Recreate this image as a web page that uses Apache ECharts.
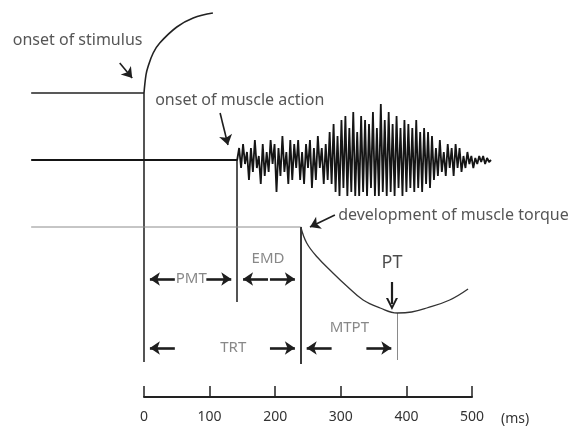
<!DOCTYPE html>
<html>
<head>
<meta charset="utf-8">
<script src="https://cdn.jsdelivr.net/npm/echarts/dist/echarts.min.js"></script>
<style>
  html, body { margin: 0; padding: 0; background: #fff; }
  #chart { width: 579px; height: 426px; }
</style>
</head>
<body>
<div id="chart"></div>
<script>
// Time runs along x in ms; each trace sits on its own level (display units) along y.
const timeTicks = [0, 100, 200, 300, 400, 500];
const traceStartMs = -172;

// Trace baselines
const traceNames = ['stimulus', 'emg', 'torque'];
const traceLevels = [83.25, 66.5, 49.75];

// Stimulus rise after onset
const stimulusRiseMs = [0, 3, 6, 14, 24, 50, 75, 105];
const stimulusRiseLevel = [83.25, 87.75, 89.75, 93.25, 95.75, 99.75, 102, 103.25];

// Surface EMG burst, sampled every emgSampleMs from the onset of muscle action
const emgOnsetMs = 142;
const emgSampleMs = 3;
const emgOffsets = [
  0, 3, -2, 4, -1, 2, -5, 3, -3, 5,
  -2, 1, -6, 4, -4, 2, -3, 5, -1, 4,
  -8, 3, -4, 6, -3, 2, -6, 5, -5, 4,
  -2, 5, -5, 2, -6, 4, -2, 5, -7, 3,
  -5, 6, -2, 3, -6, 4, -5,
  7, -6, 9, -8, 6, -9, 10, -7, 11, -9,
  8, -8, 12, -9, 7, -9, 11, -8, 10, -9,
  9, -7, 12, -9, 8, -9, 14, -8, 10, -9,
  12, -8, 9, -9, 11, -7, 8, -9, 10, -8,
  9, -7, 8, -8, 10, -7, 7, -8, 8, -6,
  7,
  -7, 6, -5, 3, -4, 5, -3, 2, -4, 4,
  -2, 3, -4, 4, -2, 3, -3, 1, -2, 2,
  -1, 1, -2,
  0.5, -1, 1, -0.5, 1, -1, 0.5, -0.5, 0
];

// Torque development
const torqueMs = [239, 248, 264, 288, 309, 334, 360, 386, 408, 431, 466, 494];
const torqueLevel = [49.75, 45.75, 42.25, 38.25, 35, 31.5, 29.5, 28.25, 28.5, 29.5, 31.5, 34.25];

// Event markers: stimulus, EMG onset, torque onset, peak torque
const eventMs = [0, 142, 239, 386];
const eventTop = [83.25, 66.5, 49.75, 28.25];
const eventBottom = [16, 31, 15.5, 16.5];

// Time intervals between events
const spanNames = ['PMT', 'EMD', 'TRT', 'MTPT'];
const spanStart = [0, 142, 0, 239];
const spanEnd = [142, 239, 239, 386];
const spanRow = [36.75, 36.75, 19.5, 19.5];
const spanLabelMs = [72, 189, 136, 313];
const spanLabelLevel = [36.75, 41.75, 19.5, 24.5];

// Peak torque marker
const peakLabelMs = 378;
const peakLabelLevel = 40.75;
const peakArrowFrom = 36;
const peakArrowTo = 30.5;

// Callouts
const noteTexts = ['onset of stimulus', 'onset of muscle action', 'development of muscle torque'];
const noteMs = [-200, 17, 296];
const noteLevel = [96.5, 81.5, 52.75];
const noteArrowFromMs = [-37, 116, 291];
const noteArrowFromLevel = [90.75, 78.25, 52.75];
const noteArrowToMs = [-18, 128, 253];
const noteArrowToLevel = [87, 70.25, 49.75];

// ---- build series data ----
const stimulusBase = [[traceStartMs, traceLevels[0]], [0, traceLevels[0]]];
const stimulusRise = stimulusRiseMs.map((t, i) => [t, stimulusRiseLevel[i]]);

const emgData = [[traceStartMs, traceLevels[1]], [emgOnsetMs, traceLevels[1]]]
  .concat(emgOffsets.map((v, i) => [emgOnsetMs + i * emgSampleMs, traceLevels[1] + v]));

const torqueBase = [[traceStartMs, traceLevels[2]], [torqueMs[0], traceLevels[2]]];
const torqueCurve = torqueMs.map((t, i) => [t, torqueLevel[i]]);

const eventLines = eventMs.map((t, i) => ({
  coords: [[t, eventTop[i]], [t, eventBottom[i]]],
  lineStyle: i === 3 ? { color: '#8a8a8a', width: 1, opacity: 1 }
           : i === 2 ? { color: '#3a3a3a', width: 2, opacity: 1 }
           : { color: '#2a2a2a', width: 1.6, opacity: 1 }
}));

const ARROW_INSET = 9, ARROW_LEN = 38;
const spanArrows = [];
spanNames.forEach((n, i) => {
  const a = spanStart[i] + ARROW_INSET, b = spanEnd[i] - ARROW_INSET;
  spanArrows.push({ coords: [[a + ARROW_LEN, spanRow[i]], [a, spanRow[i]]] });
  spanArrows.push({ coords: [[b - ARROW_LEN, spanRow[i]], [b, spanRow[i]]] });
});

const peakArrow = [{ coords: [[peakLabelMs, peakArrowFrom], [peakLabelMs, peakArrowTo]] }];

const noteArrows = noteTexts.map((n, i) => ({
  coords: [[noteArrowFromMs[i], noteArrowFromLevel[i]], [noteArrowToMs[i], noteArrowToLevel[i]]]
}));

const textFont = '"Noto Sans", "DejaVu Sans", sans-serif';

const noteLabels = noteTexts.map((n, i) => ({
  value: [noteMs[i], noteLevel[i]],
  label: {
    show: true, formatter: n, position: 'right', distance: 0,
    color: '#2b2b2b', fontSize: 16, fontFamily: textFont
  }
}));
const spanLabels = spanNames.map((n, i) => ({
  value: [spanLabelMs[i], spanLabelLevel[i]],
  label: {
    show: true, formatter: n, position: 'inside',
    color: '#6a6a6a', fontSize: 15, fontFamily: textFont
  }
}));
spanLabels.push({
  value: [peakLabelMs, peakLabelLevel],
  label: {
    show: true, formatter: 'PT', position: 'inside',
    color: '#1e1e1e', fontSize: 18, fontFamily: textFont
  }
});

const traceLine = (data, extra) => Object.assign({
  type: 'line', xAxisIndex: 0, yAxisIndex: 0, data,
  showSymbol: false, symbol: 'none', silent: true,
  lineStyle: { color: '#222', width: 1.6 }
}, extra || {});

// open chevron head for the peak-torque pointer
const chevron = 'path://M0,10L5,0L10,10L8.2,10L5,3.6L1.8,10Z';

const chart = echarts.init(document.getElementById('chart'), null, { renderer: 'canvas' });
chart.setOption({
  animation: false,
  backgroundColor: '#ffffff',
  grid: [
    { left: 12.8, right: 8.6, top: 0, bottom: 0 },
    { left: 144, width: 328, top: 389, height: 10 }
  ],
  xAxis: [
    { gridIndex: 0, type: 'value', min: -200, max: 650, show: false },
    {
      gridIndex: 1, type: 'value', min: timeTicks[0], max: timeTicks[timeTicks.length - 1],
      interval: timeTicks[1] - timeTicks[0],
      axisLine: { show: true, lineStyle: { color: '#222', width: 2 } },
      axisTick: { show: true, inside: true, length: 11, lineStyle: { color: '#222', width: 1.5 } },
      axisLabel: { color: '#333', fontSize: 14, margin: 13, fontFamily: textFont },
      splitLine: { show: false },
      name: '(ms)', nameLocation: 'end', nameGap: 29,
      nameTextStyle: { color: '#333', fontSize: 14, fontFamily: textFont,
                       align: 'left', verticalAlign: 'top', padding: [15, 0, 0, 0] }
    }
  ],
  yAxis: [
    { gridIndex: 0, type: 'value', min: 0, max: 106.5, show: false },
    { gridIndex: 1, type: 'value', min: 0, max: 1, show: false }
  ],
  series: [
    traceLine(stimulusBase),
    traceLine(stimulusRise, { smooth: 0.4 }),
    traceLine(emgData, { lineStyle: { color: '#151515', width: 1.8 } }),
    traceLine(torqueBase, { lineStyle: { color: '#8c8c8c', width: 1 } }),
    traceLine(torqueCurve, { smooth: 0.4, lineStyle: { color: '#333', width: 1.3 } }),
    {
      type: 'lines', coordinateSystem: 'cartesian2d', xAxisIndex: 0, yAxisIndex: 0,
      silent: true, symbol: 'none', data: eventLines
    },
    {
      type: 'lines', coordinateSystem: 'cartesian2d', xAxisIndex: 0, yAxisIndex: 0,
      silent: true, symbol: ['none', 'arrow'], symbolSize: 10,
      lineStyle: { color: '#1e1e1e', width: 2.6, opacity: 1 }, data: spanArrows
    },
    {
      type: 'lines', coordinateSystem: 'cartesian2d', xAxisIndex: 0, yAxisIndex: 0,
      silent: true, symbol: ['none', chevron], symbolSize: 12,
      lineStyle: { color: '#1e1e1e', width: 2.2, opacity: 1 }, data: peakArrow
    },
    {
      type: 'lines', coordinateSystem: 'cartesian2d', xAxisIndex: 0, yAxisIndex: 0,
      silent: true, symbol: ['none', 'arrow'], symbolSize: 10,
      lineStyle: { color: '#1e1e1e', width: 1.6, opacity: 1 }, data: noteArrows
    },
    {
      type: 'scatter', xAxisIndex: 0, yAxisIndex: 0, silent: true,
      symbolSize: 0, data: noteLabels.concat(spanLabels)
    },
    { type: 'line', xAxisIndex: 1, yAxisIndex: 1, data: [] }
  ]
});
</script>
</body>
</html>
